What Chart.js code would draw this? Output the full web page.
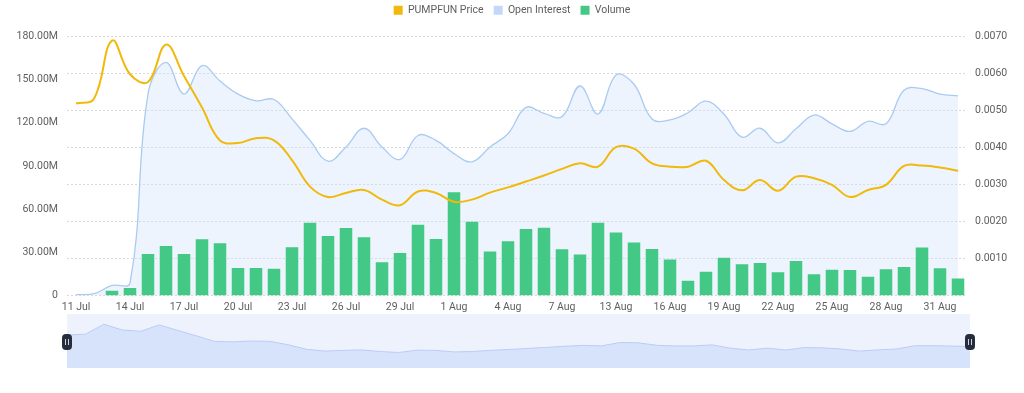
<!DOCTYPE html>
<html>
<head>
<meta charset="utf-8">
<script src="https://cdn.jsdelivr.net/npm/chart.js@4"></script>
<style>
  html,body{margin:0;padding:0;background:#fff;width:1024px;height:393px;overflow:hidden;}
  #main{position:absolute;left:0;top:-5px;width:1024px;height:325px;}
  #nav{position:absolute;left:0;top:314px;width:1024px;height:54px;}
</style>
</head>
<body>
<div id="main"><canvas id="c1"></canvas></div>
<div id="nav"><canvas id="c2"></canvas></div>
<script>
const dates = ['11 Jul','12 Jul','13 Jul','14 Jul','15 Jul','16 Jul','17 Jul','18 Jul','19 Jul','20 Jul',
  '21 Jul','22 Jul','23 Jul','24 Jul','25 Jul','26 Jul','27 Jul','28 Jul','29 Jul','30 Jul',
  '31 Jul','1 Aug','2 Aug','3 Aug','4 Aug','5 Aug','6 Aug','7 Aug','8 Aug','12 Aug',
  '13 Aug','14 Aug','15 Aug','16 Aug','17 Aug','18 Aug','19 Aug','20 Aug','21 Aug','22 Aug',
  '23 Aug','24 Aug','25 Aug','26 Aug','27 Aug','28 Aug','29 Aug','30 Aug','31 Aug','1 Sep'];

const priceUSD = [0.00519,0.00532,0.00689,0.00598,0.00577,0.00678,0.00593,0.00508,0.00419,0.00412,
  0.00425,0.00419,0.00366,0.00294,0.00266,0.00277,0.00285,0.00259,0.00244,0.00281,
  0.00277,0.00253,0.00259,0.00278,0.00292,0.00308,0.00324,0.00342,0.00357,0.00348,
  0.00401,0.00397,0.00357,0.00348,0.00348,0.00364,0.00312,0.00284,0.00312,0.00283,
  0.00321,0.00317,0.00299,0.00266,0.00285,0.00299,0.00350,0.00351,0.00346,0.00337];

const openInterestM = [0.5,1.2,6.9,8.7,140,162,140,159.8,149,139.9,
  135.3,136.2,122.7,107.8,93.3,103.2,116.2,103.2,94.5,111.2,
  107.8,98.6,92.9,103.2,112.4,130.7,126.6,124.3,145.6,126.1,
  153.2,146.8,122.7,122,127,135,126,110,116.2,106,
  115.8,125.4,119.3,114,121,119.3,142.6,143.8,139.9,138.7];

const volumeM = [0,0,3.2,5.1,28.7,34.4,28.7,39.0,36.2,19.1,
  19.1,18.6,33.5,50.5,41.3,46.8,40.4,23.0,29.4,49.1,
  39.2,71.8,51.2,30.5,37.6,46.1,47.0,32.1,28.5,50.5,
  43.8,36.7,32.3,25.0,10.1,16.5,26.1,21.6,22.5,16.1,
  23.9,14.7,17.9,17.7,12.9,18.2,19.7,33.3,18.8,11.7];

const seriesNames = ['PUMPFUN Price','Open Interest','Volume'];
const legendColors = ['#f0b90b','#c4d7f8','#43c985'];

const leftTicks = [0,30,60,90,120,150,180];
const rightTicks = [0.001,0.002,0.003,0.004,0.005,0.006,0.007];

const FONT = 'Roboto, "Noto Sans", sans-serif';
const TXT = '#5e5e5e';

const legendSpace = {
  id:'legendSpace',
  beforeInit(chart){
    const fit = chart.legend.fit;
    chart.legend.fit = function(){ fit.bind(chart.legend)(); this.height += 11; };
  }
};

new Chart(document.getElementById('c1'), {
  data: {
    labels: dates,
    datasets: [
      {type:'line', label: seriesNames[0], data: priceUSD, yAxisID:'yR', borderColor:'#f0b90b', borderWidth:2,
       pointRadius:0, tension:0.4, fill:false, order:1},
      {type:'line', label: seriesNames[1], data: openInterestM, yAxisID:'yL', borderColor:'#a9cbf2', borderWidth:1.3,
       pointRadius:0, tension:0.4, fill:'origin', backgroundColor:'rgba(205,224,250,0.35)', order:3},
      {type:'bar', label: seriesNames[2], data: volumeM, yAxisID:'yL', backgroundColor:'#43c985',
       categoryPercentage:0.8, barPercentage:0.87, order:2}
    ]
  },
  options: {
    responsive:true, maintainAspectRatio:false, animation:false,
    layout:{padding:{left:0,right:0,top:0,bottom:0}},
    plugins:{
      tooltip:{enabled:false},
      legend:{
        display:true, position:'top',
        labels:{
          boxWidth:9, boxHeight:9, padding:10,
          font:{family:FONT,size:10.5}, color:TXT,
          generateLabels:(chart)=>chart.data.datasets.map((ds,i)=>({
            text: ds.label, fillStyle: legendColors[i], strokeStyle: legendColors[i],
            lineWidth:0, hidden:false, datasetIndex:i, fontColor:TXT
          }))
        }
      }
    },
    scales:{
      x:{
        type:'category', offset:true,
        grid:{display:false, drawTicks:false}, border:{display:false},
        ticks:{autoSkip:false, maxRotation:0, padding:6, color:TXT, font:{family:FONT,size:10.5},
          callback:function(v,i){ return i%3===0 ? dates[i] : ''; }}
      },
      yL:{
        position:'left', min:0, max:180,
        afterBuildTicks:(s)=>{ s.ticks = leftTicks.map(v=>({value:v})); },
        grid:{display:false, drawTicks:false}, border:{display:false},
        ticks:{padding:9, color:TXT, font:{family:FONT,size:10.5},
          callback:(v)=> v===0 ? '0' : v.toFixed(2)+'M'},
        afterFit:(s)=>{ s.width = 67; }
      },
      yR:{
        position:'right', min:0, max:0.007,
        afterBuildTicks:(s)=>{ s.ticks = [0].concat(rightTicks).map(v=>({value:v})); },
        grid:{color:'#d9d9d9', lineWidth:1, drawTicks:false},
        border:{display:false, dash:[2,2]},
        ticks:{padding:8, color:TXT, font:{family:FONT,size:10.5},
          callback:(v)=> v===0 ? '' : v.toFixed(4)},
        afterFit:(s)=>{ s.width = 57; }
      }
    }
  },
  plugins:[legendSpace]
});

const navBg = {
  id:'navBg',
  beforeDraw(chart){
    const {ctx, chartArea:a} = chart;
    ctx.save(); ctx.fillStyle='#eef2fd'; ctx.fillRect(a.left, a.top, a.right-a.left, a.bottom-a.top); ctx.restore();
  },
  afterDraw(chart){
    const {ctx, chartArea:a} = chart;
    const cy = (a.top+a.bottom)/2 + 1;
    [a.left, a.right].forEach(x=>{
      ctx.save();
      ctx.fillStyle='#262d3e';
      ctx.beginPath(); ctx.roundRect(x-5, cy-8, 10, 16, 4); ctx.fill();
      ctx.strokeStyle='#ffffff'; ctx.lineWidth=0.8;
      ctx.beginPath(); ctx.moveTo(x-1.5, cy-3); ctx.lineTo(x-1.5, cy+3); ctx.moveTo(x+1.5, cy-3); ctx.lineTo(x+1.5, cy+3); ctx.stroke();
      ctx.restore();
    });
  }
};

new Chart(document.getElementById('c2'), {
  type:'line',
  data:{labels: dates, datasets:[{data: priceUSD, borderColor:'#b9cdf6', borderWidth:1, pointRadius:0,
    tension:0, fill:'origin', backgroundColor:'#d7e3fb'}]},
  options:{
    responsive:true, maintainAspectRatio:false, animation:false,
    layout:{padding:{left:67,right:54,top:0,bottom:0}},
    plugins:{legend:{display:false}, tooltip:{enabled:false}},
    scales:{
      x:{display:false, offset:false},
      y:{display:false, min:0, max:0.0085}
    }
  },
  plugins:[navBg]
});
</script>
</body>
</html>
